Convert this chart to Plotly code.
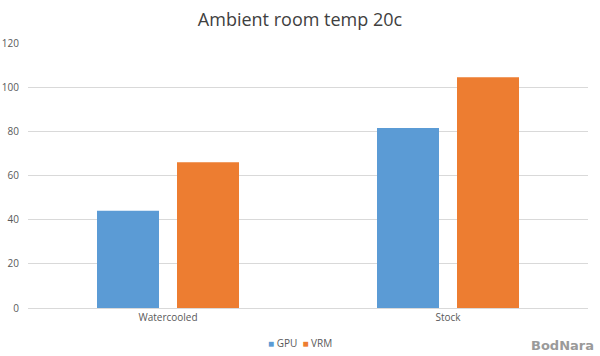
import plotly.graph_objects as go

categories = ["Watercooled", "Stock"]
gpu = [44, 81.5]
vrm = [66, 104.5]
y_ticks = [0, 20, 40, 60, 80, 100, 120]
title_text = "Ambient room temp 20c"
series_names = ["GPU", "VRM"]
series_colors = ["#5b9bd5", "#ed7d31"]

FONT = "Open Sans, Segoe UI, sans-serif"

fig = go.Figure()
fig.add_trace(go.Bar(name=series_names[0], x=categories, y=gpu,
                     marker=dict(color=series_colors[0], line_width=0)))
fig.add_trace(go.Bar(name=series_names[1], x=categories, y=vrm,
                     marker=dict(color=series_colors[1], line_width=0)))

fig.update_layout(
    width=600, height=356,
    margin=dict(l=28, r=12, t=43, b=48, autoexpand=False),
    paper_bgcolor="white", plot_bgcolor="white",
    barmode="group", bargap=0.4286, bargroupgap=0.225,
    font=dict(family=FONT, color="#595959", size=10),
    title=dict(text=title_text, x=0.5, xanchor="center", y=0.945, yanchor="middle",
               font=dict(family=FONT, size=18, color="#404040")),
    showlegend=False,
    xaxis=dict(showgrid=False, showline=True, linecolor="#d9d9d9", linewidth=1,
               ticks="", automargin=False, tickfont=dict(size=10, color="#595959")),
    yaxis=dict(range=[0, 120], tickvals=y_ticks, showgrid=True, gridcolor="#d9d9d9",
               gridwidth=1, zeroline=False, showline=False, ticks="", automargin=False,
               ticklabelstandoff=8,
               tickfont=dict(size=10, color="#595959")),
)

legend_text = "  ".join(
    f"<span style='color:{c}'>■</span> {n}" for n, c in zip(series_names, series_colors)
)
fig.add_annotation(text=legend_text, xref="paper", yref="paper", x=(300 - 28) / 560,
                   y=-(343 - 308) / 265, xanchor="center", yanchor="middle", showarrow=False,
                   font=dict(family=FONT, size=10, color="#595959"))

fig.add_annotation(text="<b>BodNara</b>", xref="paper", yref="paper", x=(596 - 28) / 560,
                   y=-(345 - 308) / 265, xanchor="right", yanchor="middle", showarrow=False,
                   font=dict(family="DejaVu Sans, sans-serif", size=13, color="#9a9a9a"))

fig.write_html("out.html", config={"displayModeBar": False},
               post_script="document.body.style.margin='0px';")
